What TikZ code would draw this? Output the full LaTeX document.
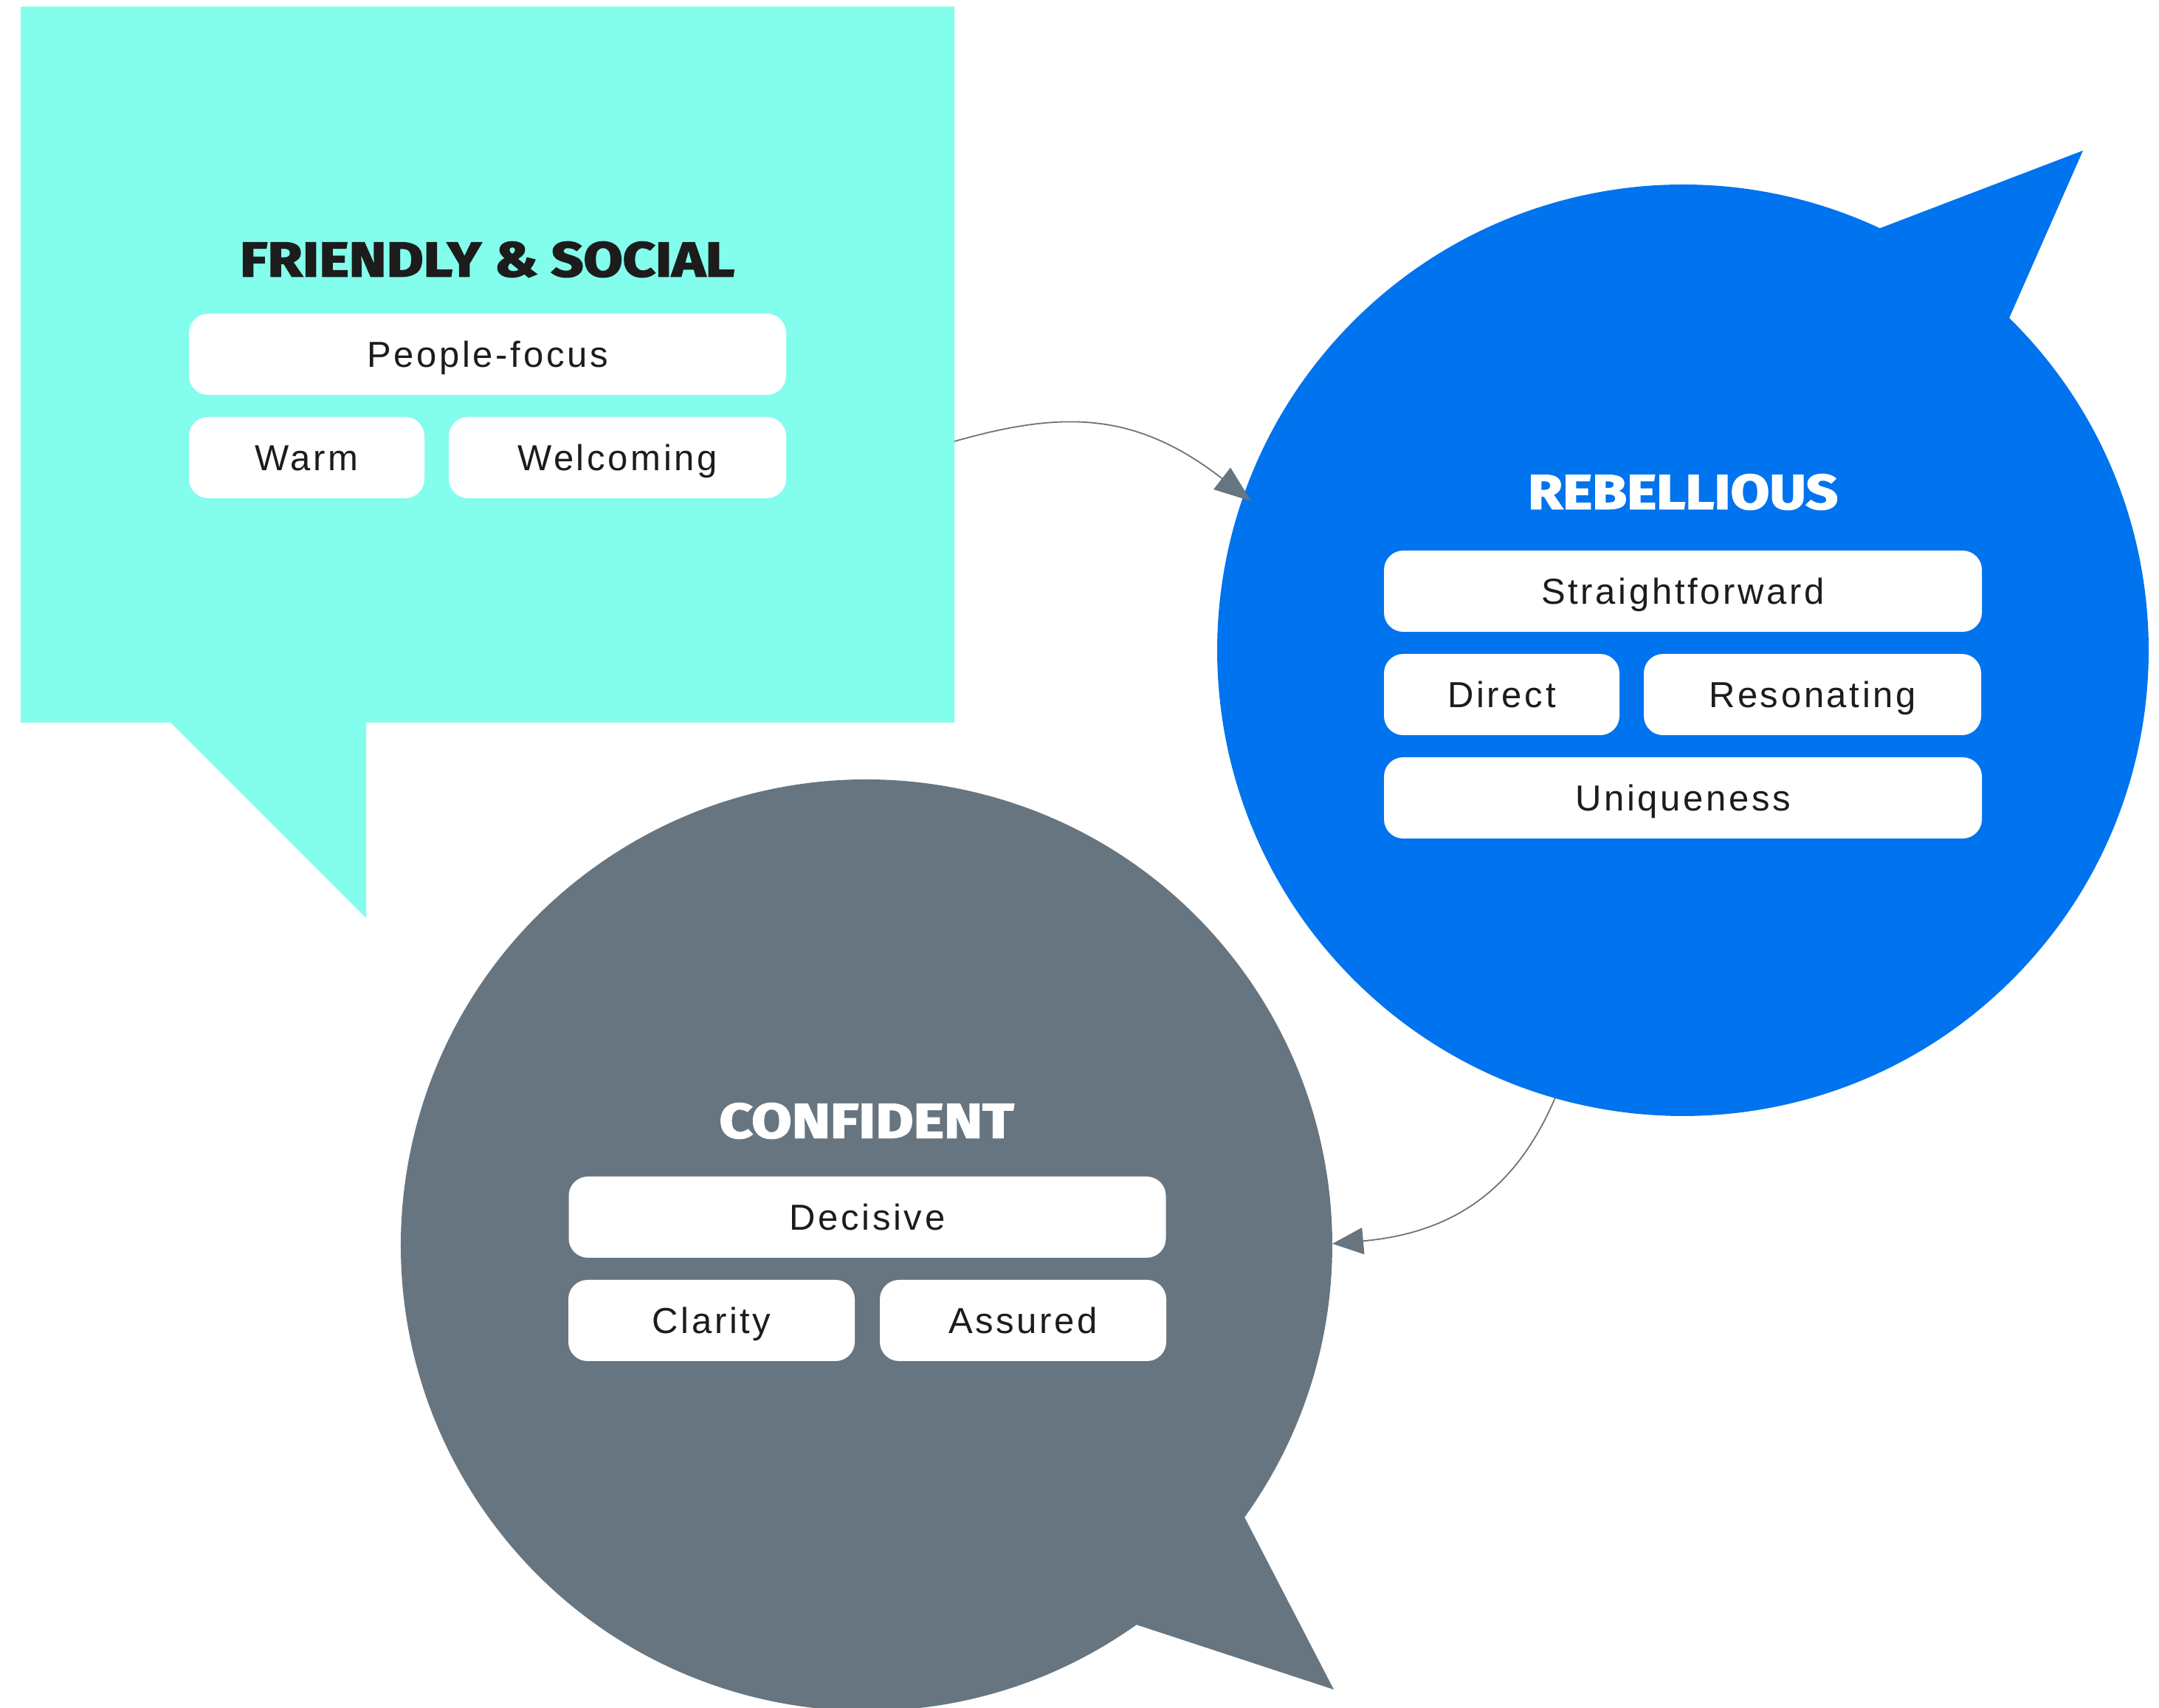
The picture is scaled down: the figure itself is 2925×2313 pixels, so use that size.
\documentclass[tikz,border=0pt]{standalone}
\usepackage{fontspec}
\setmainfont{Liberation Sans}
\newfontfamily\bodyfont[LetterSpace=7.5]{Liberation Sans}
\newfontfamily\titlefont{Fira Sans}[BoldFeatures={FakeBold=2.5}]
\usetikzlibrary{arrows.meta,calc}
\definecolor{tealc}{RGB}{131,253,236}
\definecolor{bluec}{RGB}{0,115,238}
\definecolor{greyc}{RGB}{103,117,128}
\definecolor{textdark}{RGB}{28,28,28}
\tikzset{
  pill/.style={fill=white, rounded corners=26pt, inner sep=0pt, minimum height=110pt,
    text height=35pt, text depth=0pt, text=textdark,
    font={\bodyfont\fontsize{49pt}{49pt}\selectfont}},
  ttl/.style={inner sep=0pt, text height=47pt, text depth=0pt, font={\titlefont\bfseries}},
  conn/.style={draw=greyc, line width=1.8pt},
}
\begin{document}
\begin{tikzpicture}[x=1pt,y=1pt]
\useasboundingbox (0,0) rectangle (2925,2313);
% shapes
\fill[tealc] (28,2304) -- (1293,2304) -- (1293,1334) -- (496,1334) -- (496,1069) -- (231,1334) -- (28,1334) -- cycle;
\coordinate (rbC) at (2280,1432);
\fill[bluec] ($(rbC)+(64.98:631pt)$) -- (2822,2109) -- ($(rbC)+(45.52:631pt)$)
  arc[start angle=45.52, end angle=-295.02, radius=631pt] -- cycle;
\coordinate (cfC) at (1174,626);
\fill[greyc] ($(cfC)+(-35.75:631pt)$) -- (1807,24) -- ($(cfC)+(-54.58:631pt)$)
  arc[start angle=-54.58, end angle=-395.75, radius=631pt] -- cycle;
% titles
\node[ttl, text=textdark] (fsT) at (660,1962) {\resizebox{670pt}{47pt}{FRIENDLY \& SOCIAL}};
\node[ttl, text=white] (rbT) at (2280,1647) {\resizebox{420pt}{47pt}{REBELLIOUS}};
\node[ttl, text=white] (cfT) at (1174,795) {\resizebox{399pt}{47pt}{CONFIDENT}};
% teal pills
\node[pill, minimum width=809pt] (pf) at (660.5,1833) {People-focus};
\node[pill, minimum width=319pt] (wa) at (415.5,1693) {Warm};
\node[pill, minimum width=457pt] (we) at (836.5,1693) {Welcoming};
% blue pills
\node[pill, minimum width=810pt] (st) at (2280,1512) {Straightforward};
\node[pill, minimum width=319pt] (di) at (2034.5,1372) {Direct};
\node[pill, minimum width=457pt] (re) at (2455.5,1372) {Resonating};
\node[pill, minimum width=810pt] (un) at (2280,1232) {Uniqueness};
% grey pills
\node[pill, minimum width=809pt] (de) at (1175,664) {Decisive};
\node[pill, minimum width=388pt] (cl) at (964,524) {Clarity};
\node[pill, minimum width=388pt] (as) at (1386,524) {Assured};
% connectors
\coordinate (fsOut) at (1293,1715);
\coordinate (rbIn) at (1695,1634);
\coordinate (rbOut) at (2107,826);
\coordinate (cfIn) at (1805,628);
\draw[conn, -{Triangle[length=50pt,width=37pt]}] (fsOut) .. controls (1437,1756) and (1537,1757) .. (rbIn);
\draw[conn, -{Triangle[length=42pt,width=36pt]}] (rbOut) .. controls (2056,706) and (1974,643) .. (cfIn);
\end{tikzpicture}
\end{document}
